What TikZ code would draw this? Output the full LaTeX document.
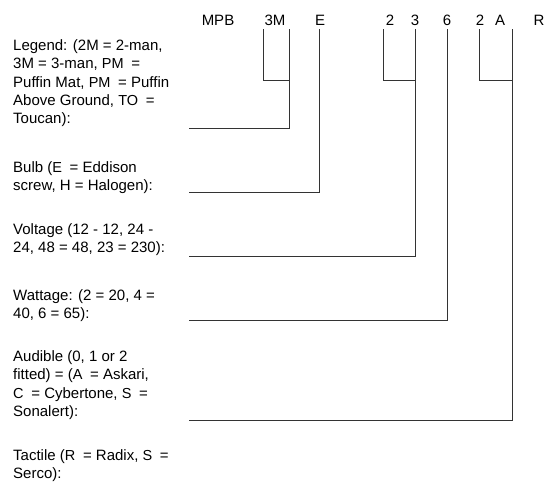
\documentclass[tikz,border=0pt]{standalone}
\usepackage{fontspec}
\setmainfont{Liberation Sans}
\usepackage{tikz}
\usetikzlibrary{positioning,calc}
\newcommand{\cd}[1]{{\fontsize{14.5}{18.3}\selectfont #1}\kern3.5pt\relax}

\begin{document}
\begin{tikzpicture}[
    x=1pt, y=-1pt,
    font=\fontsize{15}{18.3}\selectfont,
    code/.style={anchor=base, inner sep=0pt},
    desc/.style={anchor=base west, align=left, inner sep=0pt},
    wire/.style={draw=black!80, line width=0.9pt}
]
    \useasboundingbox (0,0) rectangle (551,483);

    % part number
    \node[code] (mpb)  at (218,25) {MPB};
    \node[code] (tm)   at (275,25) {3M};
    \node[code] (bulb) at (320,25) {E};
    \node[code] (va)   at (390,25) {2};
    \node[code] (vb)   at (415,25) {3};
    \node[code] (watt) at (447,25) {6};
    \node[code] (aud)  at (480,25) {2};
    \node[code] (audb) at (500,25) {A};
    \node[code] (tac)  at (539,25) {R};

    % descriptions (placed by the baseline of their last line)
    \node[desc] (legend) at (13,123.7) {Legend: (2M = 2-man,\\3M = 3-man, \cd{PM} =\\Puffin Mat, \cd{PM} = Puffin\\Above Ground, \cd{TO} =\\Toucan):};
    \node[desc] (bulbd) at (13,190.8) {Bulb (\cd{E} = Eddison\\screw, H = Halogen):};
    \node[desc] (volt) at (13,252.8) {Voltage (12 - 12, 24 -\\24, 48 = 48, 23 = 230):};
    \node[desc] (wattd) at (13,318.8) {Wattage: (2 = 20, 4 =\\40, 6 = 65):};
    \node[desc] (audd) at (13,416.4) {Audible (0, 1 or 2\\fitted) = (\cd{A} = Askari,\\\cd{C} = Cybertone, \cd{S} =\\Sonalert):};
    \node[desc] (tacd) at (13,478.8) {Tactile (\cd{R} = Radix, \cd{S} =\\Serco):};

    % lead lines
    \coordinate (t1) at (263,29);  \coordinate (t2) at (289,29);
    \coordinate (t3) at (319,29);  \coordinate (t4) at (383,29);
    \coordinate (t5) at (415,29);  \coordinate (t6) at (447,29);
    \coordinate (t7) at (479,29);  \coordinate (t8) at (512,29);
    \coordinate (j1) at (289,80);  \coordinate (j2) at (415,80);
    \coordinate (j3) at (512,80);
    \coordinate (e1) at (189,128); \coordinate (e2) at (189,192);
    \coordinate (e3) at (189,256); \coordinate (e4) at (189,320);
    \coordinate (e5) at (189,420);

    \draw[wire] (t1) |- (j1);
    \draw[wire] (t4) |- (j2);
    \draw[wire] (t7) |- (j3);
    \draw[wire] (t2) |- (e1);
    \draw[wire] (t3) |- (e2);
    \draw[wire] (t5) |- (e3);
    \draw[wire] (t6) |- (e4);
    \draw[wire] (t8) |- (e5);
\end{tikzpicture}
\end{document}
